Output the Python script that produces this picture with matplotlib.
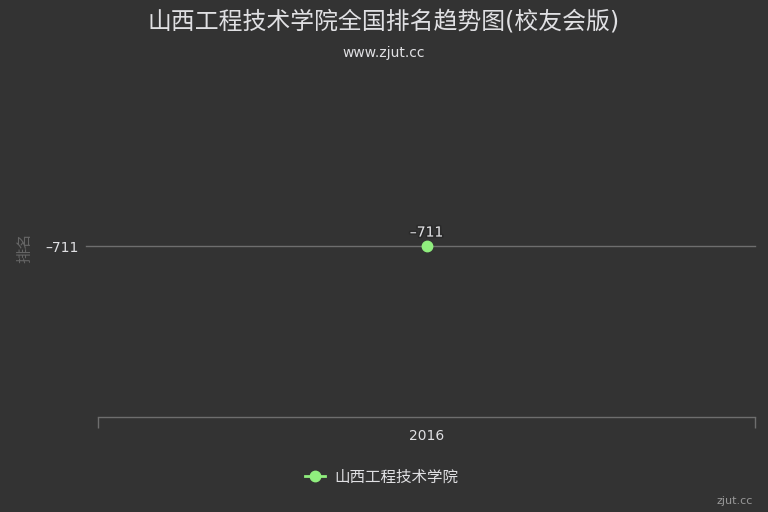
import matplotlib
matplotlib.use("Agg")
import matplotlib.pyplot as plt
import matplotlib.transforms as mtrans
import matplotlib.patheffects as pe

plt.rcParams['font.family'] = ['DejaVu Sans', 'Noto Sans CJK SC']

title = "山西工程技术学院全国排名趋势图(校友会版)"
subtitle = "www.zjut.cc"
series_name = "山西工程技术学院"
years = ["2016"]
ranks = [-711]
y_label = "排名"

bg = "#333333"
green = "#90ee7e"
grid_c = "#6e6e6e"
text_c = "#e0e0e3"


def fmt(v):
    return str(v).replace('-', '\u2013')


fig = plt.figure(figsize=(7.68, 5.12), dpi=100, facecolor=bg)
W, H = 768, 512
ax = fig.add_axes([98 / W, 1 - 417 / H, (755 - 98) / W, (417 - 75) / H], facecolor=bg)

x = list(range(len(years)))
ax.plot(x, ranks, color=green, lw=2, marker='o', markersize=7.5, zorder=5, label=series_name)
ax.set_xlim(-0.5, len(years) - 0.5)
ax.set_ylim(ranks[0] - 1, ranks[0] + 1)

trans = mtrans.blended_transform_factory(fig.transFigure, ax.transData)
for v in ranks:
    ax.plot([86 / W, 755 / W], [v, v], transform=trans, color=grid_c, lw=1, clip_on=False, zorder=1)

for s in ['top', 'right', 'left']:
    ax.spines[s].set_visible(False)
ax.spines['bottom'].set_color(grid_c)
ax.spines['bottom'].set_linewidth(1)

ax.set_yticks(ranks)
ax.set_yticklabels([fmt(v) for v in ranks])
ax.tick_params(axis='y', length=0, pad=14, colors=text_c, labelsize=10)

ax.set_xticks([i - 0.5 for i in range(len(years) + 1)])
ax.set_xticklabels([])
ax.tick_params(axis='x', which='major', length=8, color=grid_c, width=1)
ax.set_xticks(x, minor=True)
ax.set_xticklabels(years, minor=True)
ax.tick_params(axis='x', which='minor', length=0, pad=9, colors=text_c, labelsize=10)

for xi, v in zip(x, ranks):
    ax.annotate(fmt(v), (xi, v), xytext=(0, 6.8), textcoords='offset points', ha='center', va='baseline',
                color=text_c, fontsize=10, zorder=6,
                path_effects=[pe.withStroke(linewidth=2.5, foreground='#222222', alpha=0.5)])

fig.text(25 / W, 1 - 248 / H, y_label, rotation=90, ha='center', va='center', color='#666666', fontsize=11)
fig.text(384 / W, 1 - 22 / H, title, ha='center', va='center', color=text_c, fontsize=17.2)
fig.text(384 / W, 1 - 53 / H, subtitle, ha='center', va='center', color=text_c, fontsize=10)
fig.text(753 / W, 1 - 501 / H, "zjut.cc", ha='right', va='center', color='#999999', fontsize=8)

leg = fig.legend(loc='center', bbox_to_anchor=(382 / W, 1 - 477 / H), frameon=False, fontsize=11.2,
                 handlelength=1.3, handletextpad=0.6, labelcolor=text_c)

fig.savefig("out.png", dpi=100, facecolor=bg)
